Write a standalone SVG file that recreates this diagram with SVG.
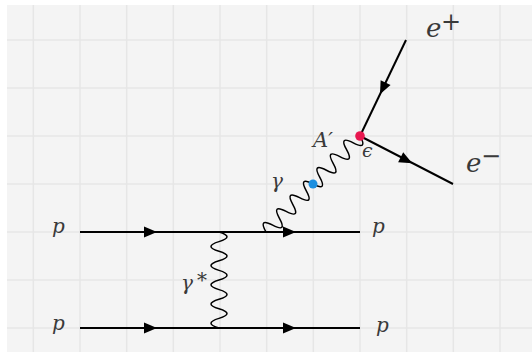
<svg xmlns="http://www.w3.org/2000/svg" width="532" height="352" viewBox="0 0 532 352">
<style>
.grid{stroke:#e6e6e6;stroke-width:1.5;fill:none}
.fermion{stroke:#000;stroke-width:2;fill:none;stroke-linecap:butt}
.photon{stroke:#000;stroke-width:1.5;fill:none;stroke-linejoin:round}
text{fill:#3a3a3a}
</style>
<defs>
<path id="ah" d="M7,0 L-6,-5.5 L-6,5.5 Z" fill="#000"/>
</defs>
<rect x="0" y="0" width="532" height="352" fill="#fff"/>
<rect x="7" y="5" width="525" height="347" fill="#f4f4f4"/>
<g id="grid" class="grid">
<path d="M33.3,5V352M80,5V352M126.7,5V352M173.3,5V352M220,5V352M266.7,5V352M313.3,5V352M360,5V352M406.7,5V352M453.3,5V352M500,5V352"/>
<path d="M7,40H532M7,88H532M7,136H532M7,184H532M7,232H532M7,280H532M7,328H532"/>
</g>
<g id="connectors">
<line class="fermion" x1="80" y1="232" x2="360" y2="232"/>
<line class="fermion" x1="80" y1="328" x2="360" y2="328"/>
<use href="#ah" transform="translate(150,232)"/>
<use href="#ah" transform="translate(289,232)"/>
<use href="#ah" transform="translate(150,328)"/>
<use href="#ah" transform="translate(289,328)"/>
<path class="photon" transform="translate(219,232) rotate(90)" d="M0,0c3.2,-10.67 6.4,-10.67 9.6,0c3.2,10.67 6.4,10.67 9.6,0c3.2,-10.67 6.4,-10.67 9.6,0c3.2,10.67 6.4,10.67 9.6,0c3.2,-10.67 6.4,-10.67 9.6,0c3.2,10.67 6.4,10.67 9.6,0c3.2,-10.67 6.4,-10.67 9.6,0c3.2,10.67 6.4,10.67 9.6,0c3.2,-10.67 6.4,-10.67 9.6,0c3.2,10.67 6.4,10.67 9.6,0"/>
<path class="photon" transform="translate(266,232) rotate(-45.6)" d="M0,0c3.2,-10.67 6.4,-10.67 9.6,0c3.2,10.67 6.4,10.67 9.6,0c3.2,-10.67 6.4,-10.67 9.6,0c3.2,10.67 6.4,10.67 9.6,0c3.2,-10.67 6.4,-10.67 9.6,0c3.2,10.67 6.4,10.67 9.6,0c3.2,-10.67 6.4,-10.67 9.6,0"/>
<path class="photon" transform="translate(313,184) rotate(-45.6)" d="M0,0c3.2,10.67 6.4,10.67 9.6,0c3.2,-10.67 6.4,-10.67 9.6,0c3.2,10.67 6.4,10.67 9.6,0c3.2,-10.67 6.4,-10.67 9.6,0c3.2,10.67 6.4,10.67 9.6,0c3.2,-10.67 6.4,-10.67 9.6,0c3.2,10.67 6.4,10.67 9.6,0"/>
<line class="fermion" x1="406" y1="40" x2="360" y2="136"/>
<use href="#ah" transform="translate(383,88) rotate(115.6)"/>
<line class="fermion" x1="360" y1="136" x2="453" y2="184"/>
<use href="#ah" transform="translate(406,160) rotate(27.3)"/>
</g>
<g id="vertex-blue"><circle cx="313" cy="184" r="4.5" fill="#1b8fe0"/></g>
<g id="vertex-red"><circle cx="360" cy="136" r="4.8" fill="#e8174f"/></g>
<g font-family="'DejaVu Serif', serif" font-style="italic">
<g id="label-p-in-top"><text x="52" y="233" font-size="20">p</text></g>
<g id="label-p-in-bottom"><text x="52" y="330" font-size="20">p</text></g>
<g id="label-p-out-top"><text x="372" y="233" font-size="20">p</text></g>
<g id="label-p-out-bottom"><text x="376" y="332" font-size="20">p</text></g>
<g id="label-gamma"><text x="271" y="188" font-size="20">γ</text></g>
<g id="label-gamma-star"><text x="181" y="290" font-size="20">γ</text><text x="197" y="287" font-size="20" font-style="normal">*</text></g>
<g id="label-Aprime"><text x="313" y="147" font-size="21">A′</text></g>
<g id="label-epsilon"><text x="362" y="157" font-size="19">ϵ</text></g>
<g id="label-eplus"><text x="426" y="37" font-size="26">e</text><text x="441" y="30" font-size="24" font-style="normal">+</text></g>
<g id="label-eminus"><text x="466" y="172" font-size="26">e</text><text x="481" y="164" font-size="24" font-style="normal">−</text></g>
</g>
</svg>
